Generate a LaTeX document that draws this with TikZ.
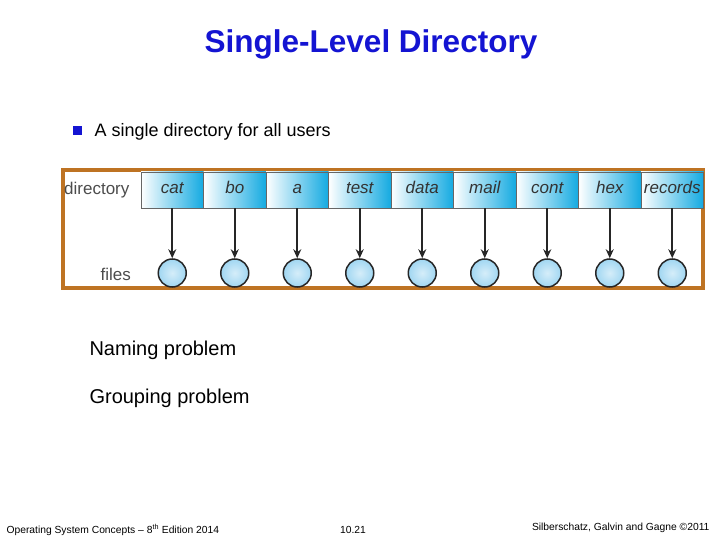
\documentclass[tikz,border=0pt]{standalone}
\usepackage{fontspec}
\setmainfont{Liberation Sans}
\usetikzlibrary{arrows.meta}
\definecolor{ttl}{RGB}{20,20,210}
\definecolor{frm}{RGB}{190,115,35}
\definecolor{cel}{RGB}{20,170,225}
\definecolor{ball}{RGB}{150,210,240}
\begin{document}
\begin{tikzpicture}[x=1pt,y=-1pt,
  cell/.style={draw=black!60,line width=0.8pt,left color=white,right color=cel,minimum width=62.5pt,minimum height=36pt,inner sep=0pt,text height=12pt,text depth=4pt,font=\itshape\fontsize{17}{19}\selectfont,text=black!80},
  file/.style={circle,draw=black!85,line width=1.5pt,inner color=ball!40,outer color=ball!100!black!90,minimum size=28pt,inner sep=0pt},
  link/.style={-{Stealth[length=9pt,width=8pt]},line width=1.6pt,draw=black!85},
  lbl/.style={font=\fontsize{17}{19}\selectfont,text=black!70}]
\useasboundingbox (0,0) rectangle (720,540);
\node[font=\bfseries\fontsize{31.5}{36}\selectfont,text=ttl] (title) at (371,44) {Single-Level Directory};
\node[fill=ttl,minimum size=9pt,inner sep=0pt] (bul) at (77,131) {};
\node[anchor=west,font=\fontsize{18}{20}\selectfont] (b1) at (91,132) {A single directory for all users};
\node[draw=frm,line width=3.5pt,minimum width=640pt,minimum height=118pt,inner sep=0pt] (frame) at (383,229) {};
\node[lbl,anchor=west,inner sep=0pt] (dirl) at (64,190) {directory};
\node[lbl,anchor=east,inner sep=0pt] (filel) at (131,274) {files};
\foreach \n [count=\i] in {cat,bo,a,test,data,mail,cont,hex,records}{
  \node[cell] (c\i) at ({141+62.5*(\i-0.5)},190) {\n};
  \node[file] (f\i) at ({141+62.5*(\i-0.5)},273) {};
  \draw[link] (c\i.south) -- (f\i.north);
}
\node[anchor=west,font=\fontsize{20}{22}\selectfont] (p1) at (86,350) {Naming problem};
\node[anchor=west,font=\fontsize{20}{22}\selectfont] (p2) at (86,398) {Grouping problem};
\node[anchor=west,font=\fontsize{10.3}{12}\selectfont] (ft1) at (3,530) {Operating System Concepts -- 8\textsuperscript{th} Edition 2014};
\node[font=\fontsize{10.3}{12}\selectfont] (ft2) at (353,530) {10.21};
\node[anchor=east,font=\fontsize{10.3}{12}\selectfont] (ft3) at (713,528) {Silberschatz, Galvin and Gagne ©2011};
\end{tikzpicture}
\end{document}
